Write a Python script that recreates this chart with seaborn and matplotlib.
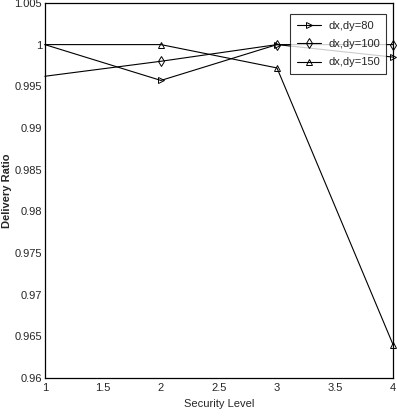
import numpy as np
import pandas as pd
import seaborn as sns
import matplotlib.pyplot as plt

sns.set_style("white")
plt.rcParams['font.family'] = ['Liberation Sans', 'DejaVu Sans']

security_level = [1, 2, 3, 4]
ratio_80 = [1.0, 0.9957, 1.0, 0.9985]
ratio_100 = [0.9962, 0.9980, 1.0, 1.0]
ratio_150 = [1.0, 1.0, 0.9972, 0.9640]
labels = ["dx,dy=80", "dx,dy=100", "dx,dy=150"]
markers = [">", "d", "^"]

yticks = [0.96, 0.965, 0.97, 0.975, 0.98, 0.985, 0.99, 0.995, 1.0, 1.005]
ytick_labels = ["0.96", "0.965", "0.97", "0.975", "0.98", "0.985", "0.99", "0.995", "1", "1.005"]
xticks = [1, 1.5, 2, 2.5, 3, 3.5, 4]
xtick_labels = ["1", "1.5", "2", "2.5", "3", "3.5", "4"]

fig = plt.figure(figsize=(3.97, 4.19), dpi=100)
ax = fig.add_axes([0.113, 0.098, 0.877, 0.895])

for vals, lab, mk in zip([ratio_80, ratio_100, ratio_150], labels, markers):
    df = pd.DataFrame({"level": security_level, "ratio": vals})
    sns.lineplot(data=df, x="level", y="ratio", ax=ax, color="black", lw=0.8,
                 marker=mk, markersize=5, markerfacecolor="none",
                 markeredgecolor="black", markeredgewidth=0.7,
                 markevery=[1, 2, 3], label=lab, clip_on=False)

ax.set_xlim(1, 4)
ax.set_ylim(0.96, 1.005)
ax.set_xticks(xticks)
ax.set_xticklabels(xtick_labels, fontsize=8)
ax.set_yticks(yticks)
ax.set_yticklabels(ytick_labels, fontsize=8)
ax.tick_params(axis="x", direction="in", length=3, width=0.8, pad=4)
ax.tick_params(axis="y", direction="in", length=3, width=0.8, pad=2)
for s in ax.spines.values():
    s.set_color("black")
    s.set_linewidth(0.9)

ax.set_xlabel("Security Level", fontsize=8, labelpad=4)
ax.set_ylabel("Delivery Ratio", fontsize=8, fontweight="bold", labelpad=2)

leg = ax.legend(loc="upper right", bbox_to_anchor=(0.997, 0.985), fontsize=8,
                frameon=True, fancybox=False, edgecolor="black",
                handlelength=2.2, handletextpad=0.6, borderpad=0.6,
                labelspacing=0.75)
leg.get_frame().set_linewidth(0.8)

fig.savefig("out.png", dpi=100)
